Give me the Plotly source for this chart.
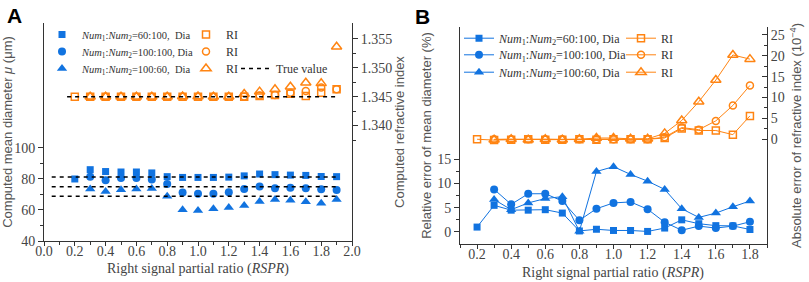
import plotly.graph_objects as go

# ---------------- data ----------------
# Panel A : computed mean diameter (left axis) and refractive index (right axis)
xa_sq = [0.2, 0.3, 0.4, 0.5, 0.6, 0.7, 0.8, 0.9, 1.0, 1.1, 1.2, 1.3, 1.4, 1.5, 1.6, 1.7, 1.8, 1.9]
xa = [0.3, 0.4, 0.5, 0.6, 0.7, 0.8, 0.9, 1.0, 1.1, 1.2, 1.3, 1.4, 1.5, 1.6, 1.7, 1.8, 1.9]
dia_60_100 = [80.0, 86.0, 84.8, 84.5, 84.5, 83.9, 81.5, 81.0, 81.0, 81.0, 81.2, 82.0, 83.2, 82.8, 82.5, 82.3, 81.6, 81.5]
dia_100_100 = [81.4, 79.2, 80.6, 80.6, 79.6, 76.8, 71.3, 70.5, 70.4, 71.4, 73.5, 75.2, 74.0, 74.4, 74.1, 73.4, 72.9]
dia_100_60 = [73.6, 71.9, 73.0, 73.6, 73.8, 68.8, 60.2, 59.6, 60.8, 61.6, 62.9, 65.5, 66.8, 66.3, 65.3, 64.4, 66.8]
ri_60_100 = [1.3450, 1.3450, 1.3450, 1.3450, 1.3450, 1.3450, 1.3450, 1.3450, 1.3450, 1.3450, 1.3450, 1.3450,
             1.3451, 1.3453, 1.3455, 1.3451, 1.3457, 1.3463]
ri_100_100 = [1.3450, 1.3450, 1.3450, 1.3450, 1.3450, 1.3450, 1.3450, 1.3450, 1.3450, 1.3450, 1.34505,
              1.3452, 1.3453, 1.3457, 1.3460, 1.3466, 1.3463]
ri_100_60 = [1.3450, 1.3450, 1.3450, 1.3450, 1.3450, 1.3450, 1.34502, 1.34502, 1.3450, 1.3450, 1.34546,
             1.34587, 1.34627, 1.34673, 1.34742, 1.34731, 1.35365]
true_x = [0.05, 1.9]
true_ri_x = [0.15, 1.9]
true_dia = [81.3, 75.0, 68.8]
true_ri = 1.345

# Panel B : relative error of mean diameter (%) and absolute error of RI (1e-4)
xb_sq = [0.2, 0.3, 0.4, 0.5, 0.6, 0.7, 0.8, 0.9, 1.0, 1.1, 1.2, 1.3, 1.4, 1.5, 1.6, 1.7, 1.8]
xb = [0.3, 0.4, 0.5, 0.6, 0.7, 0.8, 0.9, 1.0, 1.1, 1.2, 1.3, 1.4, 1.5, 1.6, 1.7, 1.8]
rel_60_100 = [1.0, 5.5, 4.5, 4.5, 4.6, 3.9, 0.2, 0.55, 0.3, 0.3, 0.1, 0.8, 2.5, 1.7, 1.3, 1.25, 0.5]
rel_100_100 = [8.8, 5.7, 7.9, 7.9, 6.4, 2.4, 4.8, 6.0, 6.2, 4.7, 2.0, 0.35, 1.2, 0.8, 1.2, 2.1]
rel_100_60 = [6.7, 4.6, 6.0, 6.9, 7.3, 0.15, 12.5, 13.5, 11.9, 10.5, 8.8, 4.8, 3.0, 3.9, 5.2, 6.4]
abs_60_100 = [0.0, -0.2, -0.1, 0.0, -0.1, -0.1, 0.0, -0.1, 0.0, 0.0, 0.0, 0.3, 2.6, 2.1, 2.1, 1.1, 5.6]
abs_100_100 = [0.0, 0.0, 0.0, 0.0, 0.0, 0.0, 0.0, 0.0, 0.0, 0.0, 0.5, 2.8, 2.3, 4.4, 8.1, 12.9]
abs_100_60 = [-0.1, 0.0, -0.1, 0.0, -0.1, 0.0, 0.3, 0.3, 0.1, 0.1, 1.4, 4.5, 9.0, 14.2, 20.2, 19.2]

lbl_60_100 = "<i>Num</i><sub>1</sub>:<i>Num</i><sub>2</sub>=60:100,"
lbl_100_100 = "<i>Num</i><sub>1</sub>:<i>Num</i><sub>2</sub>=100:100,"
lbl_100_60 = "<i>Num</i><sub>1</sub>:<i>Num</i><sub>2</sub>=100:60,"

# ---------------- style ----------------
W, H = 809, 282
BLUE = "#1173E0"
ORANGE = "#FF8412"
AX = "#333333"
TXT = "#444444"
TITLE = "#555555"
SERIF = "Liberation Serif"
SANS = "Liberation Sans"


def px(p):
    return p / W


def py(p):
    return 1 - p / H


fig = go.Figure()

# ---- Panel A traces ----
fig.add_trace(go.Scatter(x=xa_sq, y=dia_60_100, mode="markers", xaxis="x", yaxis="y",
                         marker=dict(symbol="square", size=7, color=BLUE),
                         name=lbl_60_100 + "\u00a0\u00a0Dia", legend="legend"))
fig.add_trace(go.Scatter(x=xa, y=dia_100_100, mode="markers", xaxis="x", yaxis="y",
                         marker=dict(symbol="circle", size=8, color=BLUE),
                         name=lbl_100_100 + "\u00a0Dia", legend="legend2"))
fig.add_trace(go.Scatter(x=xa, y=dia_100_60, mode="markers", xaxis="x", yaxis="y",
                         marker=dict(symbol="triangle-up", size=9, color=BLUE),
                         name=lbl_100_60 + "\u00a0\u00a0Dia", legend="legend3"))
for tv in true_dia:
    fig.add_trace(go.Scatter(x=true_x, y=[tv, tv], mode="lines", xaxis="x", yaxis="y",
                             line=dict(color="black", width=1.5, dash="4px,4px"),
                             showlegend=False))

fig.add_trace(go.Scatter(x=xa_sq, y=ri_60_100, mode="markers", xaxis="x", yaxis="y2",
                         marker=dict(symbol="square-open", size=7, color=ORANGE, line=dict(width=1.5)),
                         name="RI", legend="legend4"))
fig.add_trace(go.Scatter(x=xa, y=ri_100_100, mode="markers", xaxis="x", yaxis="y2",
                         marker=dict(symbol="circle-open", size=7, color=ORANGE, line=dict(width=1.5)),
                         name="RI", legend="legend5"))
fig.add_trace(go.Scatter(x=xa, y=ri_100_60, mode="markers", xaxis="x", yaxis="y2",
                         marker=dict(symbol="triangle-up-open", size=9, color=ORANGE, line=dict(width=1.5)),
                         name="RI", legend="legend6"))
fig.add_trace(go.Scatter(x=true_ri_x, y=[true_ri, true_ri], mode="lines", xaxis="x", yaxis="y2",
                         line=dict(color="black", width=1.5, dash="4px,4px"),
                         name="True value", legend="legend7"))

# ---- Panel B traces ----
fig.add_trace(go.Scatter(x=xb_sq, y=rel_60_100, mode="lines+markers", xaxis="x3", yaxis="y3",
                         line=dict(color=BLUE, width=1),
                         marker=dict(symbol="square", size=7, color=BLUE),
                         name=lbl_60_100 + " Dia", legend="legend8"))
fig.add_trace(go.Scatter(x=xb, y=rel_100_100, mode="lines+markers", xaxis="x3", yaxis="y3",
                         line=dict(color=BLUE, width=1),
                         marker=dict(symbol="circle", size=8, color=BLUE),
                         name=lbl_100_100 + " Dia", legend="legend9"))
fig.add_trace(go.Scatter(x=xb, y=rel_100_60, mode="lines+markers", xaxis="x3", yaxis="y3",
                         line=dict(color=BLUE, width=1),
                         marker=dict(symbol="triangle-up", size=9, color=BLUE),
                         name=lbl_100_60 + " Dia", legend="legend10"))
fig.add_trace(go.Scatter(x=xb_sq, y=abs_60_100, mode="lines+markers", xaxis="x3", yaxis="y4",
                         line=dict(color=ORANGE, width=1),
                         marker=dict(symbol="square-open", size=7, color=ORANGE, line=dict(width=1.5)),
                         name="RI", legend="legend11"))
fig.add_trace(go.Scatter(x=xb, y=abs_100_100, mode="lines+markers", xaxis="x3", yaxis="y4",
                         line=dict(color=ORANGE, width=1),
                         marker=dict(symbol="circle-open", size=7, color=ORANGE, line=dict(width=1.5)),
                         name="RI", legend="legend12"))
fig.add_trace(go.Scatter(x=xb, y=abs_100_60, mode="lines+markers", xaxis="x3", yaxis="y4",
                         line=dict(color=ORANGE, width=1),
                         marker=dict(symbol="triangle-up-open", size=9, color=ORANGE, line=dict(width=1.5)),
                         name="RI", legend="legend13"))

# ---------------- axes ----------------
tickfont = dict(family=SERIF, size=14, color=TXT)
common = dict(showline=True, linecolor=AX, linewidth=1, showgrid=False, zeroline=False,
              tickcolor=AX, tickwidth=1, tickfont=tickfont, automargin=False)

xa_dom = [px(44), px(352)]
ya_dom = [py(241), py(23)]
xb_dom = [px(460), px(767)]
yb_dom = [py(244), py(27)]

fig.update_layout(
    xaxis=dict(**common, domain=xa_dom, range=[0, 2], anchor="y", ticks="outside", ticklen=4,
               tick0=0, dtick=0.2, tickformat=".1f", ticklabelstandoff=-7,
               minor=dict(dtick=0.1, tick0=0, ticks="outside", ticklen=3, tickcolor=AX)),
    xaxis2=dict(**common, domain=xa_dom, range=[0, 2], overlaying="x", side="top", anchor="y",
                ticks="inside", ticklen=4, tick0=0, dtick=0.2, showticklabels=False,
                minor=dict(dtick=0.1, tick0=0, ticks="inside", ticklen=3, tickcolor=AX)),
    yaxis=dict(**common, domain=ya_dom, range=[40, 180.6], anchor="x", ticks="outside", ticklen=5,
               tickmode="array", tickvals=[40, 60, 80, 100],
               minor=dict(tickmode="array", tickvals=[50, 70, 90], ticks="outside", ticklen=3, tickcolor=AX),
               title=dict(text="Computed mean diameter <i>μ</i> (μm)",
                          font=dict(family=SANS, size=13, color=TITLE), standoff=6)),
    yaxis2=dict(**common, range=[1.32003, 1.35775], overlaying="y", side="right", anchor="x",
                ticks="outside", ticklen=5, tickmode="array",
                tickvals=[1.340, 1.345, 1.350, 1.355], tickformat=".3f",
                minor=dict(tickmode="array", tickvals=[1.3375, 1.3425, 1.3475, 1.3525],
                           ticks="outside", ticklen=3, tickcolor=AX),
                title=dict(text="Computed refractive index",
                           font=dict(family=SANS, size=13, color=TITLE), standoff=3)),
    xaxis3=dict(**common, domain=xb_dom, range=[0.1, 1.9], anchor="y3", ticks="outside", ticklen=4,
                tick0=0.2, dtick=0.2, tickformat=".1f", ticklabelstandoff=-7,
                minor=dict(dtick=0.1, tick0=0.1, ticks="outside", ticklen=3, tickcolor=AX)),
    xaxis4=dict(**common, domain=xb_dom, range=[0.1, 1.9], overlaying="x3", side="top", anchor="y3",
                ticks="inside", ticklen=4, tick0=0.2, dtick=0.2, showticklabels=False,
                minor=dict(dtick=0.1, tick0=0.1, ticks="inside", ticklen=3, tickcolor=AX)),
    yaxis3=dict(**common, domain=yb_dom, range=[-2.5, 42.4], anchor="x3", ticks="outside", ticklen=5,
                tickmode="array", tickvals=[0, 5, 10, 15],
                minor=dict(tickmode="array", tickvals=[2.5, 7.5, 12.5], ticks="outside", ticklen=3, tickcolor=AX),
                title=dict(text="Relative error of mean diameter (%)",
                           font=dict(family=SANS, size=13, color=TITLE), standoff=2)),
    yaxis4=dict(**common, range=[-25.1, 26.9], overlaying="y3", side="right", anchor="x3",
                ticks="inside", ticklen=5, tickmode="array", tickvals=[0, 5, 10, 15, 20, 25],
                minor=dict(tickmode="array", tickvals=[2.5, 7.5, 12.5, 17.5, 22.5],
                           ticks="inside", ticklen=3, tickcolor=AX),
                title=dict(text="Absolute error of refractive index (10<sup>−4</sup>)",
                           font=dict(family=SANS, size=13, color=TITLE), standoff=8)),
)

# x-axis titles
xtitle = "Right signal partial ratio (<i>RSPR</i>)"
fig.add_annotation(text=xtitle, x=px(198), y=py(269), xref="paper", yref="paper",
                   xanchor="center", yanchor="middle", showarrow=False,
                   font=dict(family=SERIF, size=14, color=TXT))
fig.add_annotation(text=xtitle, x=px(613), y=py(272.5), xref="paper", yref="paper",
                   xanchor="center", yanchor="middle", showarrow=False,
                   font=dict(family=SERIF, size=14, color=TXT))

# legends: one per row so that rows sit where the reference puts them
legfont_a = dict(family=SERIF, size=10.5, color="#333333")
legfont_b = dict(family=SERIF, size=12, color="#333333")


def leg(x, y, font):
    return dict(bgcolor="rgba(0,0,0,0)", font=font, tracegroupgap=0, orientation="v",
                xanchor="left", yanchor="top", itemclick=False, x=px(x), y=py(y))


OFF_Y = 14
a_rows = [34, 51, 68]
b_rows = [37.7, 54.3, 71.7]
fig.update_layout(
    legend=leg(42, a_rows[0] - OFF_Y, legfont_a),
    legend2=leg(42, a_rows[1] - OFF_Y, legfont_a),
    legend3=leg(42, a_rows[2] - OFF_Y, legfont_a),
    legend4=leg(186, a_rows[0] - OFF_Y, legfont_b),
    legend5=leg(186, a_rows[1] - OFF_Y, legfont_b),
    legend6=leg(186, a_rows[2] - OFF_Y, legfont_b),
    legend7=leg(236, a_rows[2] - OFF_Y, legfont_b),
    legend8=leg(459, b_rows[0] - OFF_Y, legfont_b),
    legend9=leg(459, b_rows[1] - OFF_Y, legfont_b),
    legend10=leg(459, b_rows[2] - OFF_Y, legfont_b),
    legend11=leg(621, b_rows[0] - OFF_Y, legfont_b),
    legend12=leg(621, b_rows[1] - OFF_Y, legfont_b),
    legend13=leg(621, b_rows[2] - OFF_Y, legfont_b),
)

fig.add_annotation(text="<b>A</b>", x=px(5), y=py(2), xref="paper", yref="paper",
                   xanchor="left", yanchor="top", showarrow=False,
                   font=dict(family=SANS, size=21, color="black"))
fig.add_annotation(text="<b>B</b>", x=px(413), y=py(3), xref="paper", yref="paper",
                   xanchor="left", yanchor="top", showarrow=False,
                   font=dict(family=SANS, size=21, color="black"))

fig.update_layout(width=W, height=H, margin=dict(l=0, r=0, t=0, b=0),
                  paper_bgcolor="white", plot_bgcolor="white", showlegend=True)

fig.write_html("out.html", config={"displayModeBar": False},
               post_script="document.body.style.margin='0';document.body.style.padding='0';")
